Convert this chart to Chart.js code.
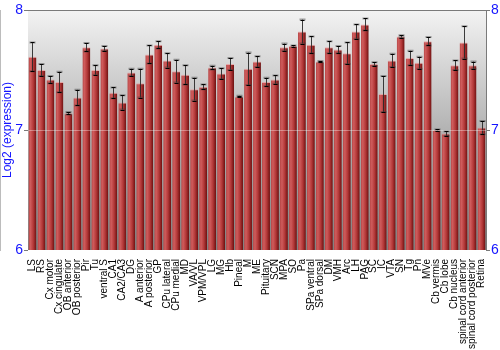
<!DOCTYPE html>
<html>
<head>
<meta charset="utf-8">
<script src="https://cdn.jsdelivr.net/npm/chart.js@4"></script>
<style>
  html, body { margin: 0; padding: 0; background: #fff; }
  #wrap { width: 500px; height: 350px; }
</style>
</head>
<body>
<div id="wrap"><canvas id="barChart" width="500" height="350"></canvas></div>
<script>
const regions = ['LS', 'RS', 'Cx motor', 'Cx cingulate', 'OB anterior', 'OB posterior', 'Pir', 'Tu',
    'ventral S', 'CA1', 'CA2/CA3', 'DG', 'A anterior', 'A posterior', 'GP', 'CPu lateral', 'CPu medial',
    'MD', 'VA/VL', 'VPM/VPL', 'LG', 'MG', 'Hb', 'Pineal', 'M', 'ME', 'Pituitary', 'SCN', 'MPA', 'SO', 'Pa',
    'SPa ventral', 'SPa dorsal', 'DM', 'VMH', 'Arc', 'LH', 'PAG', 'SC', 'IC', 'VTA', 'SN', 'Tg', 'Pn', 'MVe',
    'Cb vermis', 'Cb lobe', 'Cb nucleus', 'spinal cord anterior', 'spinal cord posterior', 'Retina'];

const expression = [7.61, 7.50, 7.42, 7.40, 7.14, 7.27, 7.69, 7.50,
    7.68, 7.31, 7.23, 7.48, 7.39, 7.63, 7.71, 7.58, 7.49,
    7.46, 7.34, 7.36, 7.52, 7.47, 7.55, 7.28, 7.51, 7.57, 7.40, 7.42, 7.69, 7.70, 7.82,
    7.71, 7.57, 7.69, 7.67, 7.64, 7.82, 7.88, 7.55, 7.30, 7.58, 7.78, 7.60, 7.56, 7.74,
    7.00, 6.97, 7.54, 7.73, 7.54, 7.02];

const errors = [0.12, 0.05, 0.03, 0.085, 0.01, 0.065, 0.035, 0.04,
    0.02, 0.045, 0.06, 0.03, 0.12, 0.075, 0.03, 0.06, 0.095,
    0.08, 0.095, 0.02, 0.015, 0.045, 0.05, 0.005, 0.135, 0.045, 0.035, 0.035, 0.03, 0.005, 0.10,
    0.07, 0.005, 0.05, 0.03, 0.09, 0.06, 0.05, 0.015, 0.15, 0.055, 0.01, 0.06, 0.05, 0.035,
    0.005, 0.02, 0.04, 0.135, 0.03, 0.055];

const yTicks = [6, 7, 8];
const blue = '#1414ff';

function barFill(ctx) {
    const chart = ctx.chart;
    const x = chart.scales.x;
    if (!x || !chart.chartArea) return '#b03030';
    const cx = x.getPixelForValue(ctx.dataIndex);
    const w = x.width / regions.length * 0.9;
    const g = chart.ctx.createLinearGradient(cx - w / 2, 0, cx + w / 2, 0);
    g.addColorStop(0, '#b54545');
    g.addColorStop(0.25, '#cf5c5c');
    g.addColorStop(0.6, '#b33838');
    g.addColorStop(1, '#6a0e0e');
    return g;
}

const backdrop = {
    id: 'backdrop',
    beforeDraw(chart) {
        const { ctx, chartArea: a } = chart;
        const g = ctx.createLinearGradient(0, a.top, 0, a.bottom);
        g.addColorStop(0, '#f3f3f3');
        g.addColorStop(0.5, '#b3b3b3');
        g.addColorStop(1, '#808080');
        ctx.save();
        ctx.fillStyle = g;
        ctx.fillRect(a.left, a.top, a.right - a.left, a.bottom - a.top);
        ctx.restore();
    }
};

const errorBars = {
    id: 'errorBars',
    afterDatasetsDraw(chart) {
        const { ctx } = chart;
        const x = chart.scales.x, y = chart.scales.y;
        ctx.save();
        expression.forEach(function (v, i) {
            const cx = Math.round(x.getPixelForValue(i)) + 0.5;
            const hi = y.getPixelForValue(v + errors[i]);
            const lo = y.getPixelForValue(v - errors[i]);
            ctx.strokeStyle = 'rgba(40,40,40,0.9)';
            ctx.lineWidth = 1;
            ctx.beginPath();
            ctx.moveTo(cx, hi);
            ctx.lineTo(cx, lo);
            ctx.stroke();
            ctx.strokeStyle = 'rgba(60,60,60,0.45)';
            ctx.lineWidth = 2;
            ctx.beginPath();
            ctx.moveTo(cx - 3, hi); ctx.lineTo(cx + 3, hi);
            ctx.moveTo(cx - 3, lo); ctx.lineTo(cx + 3, lo);
            ctx.stroke();
            ctx.strokeStyle = '#000';
            ctx.lineWidth = 1;
            ctx.beginPath();
            ctx.moveTo(cx - 2, Math.round(hi) + 0.5); ctx.lineTo(cx + 2, Math.round(hi) + 0.5);
            ctx.moveTo(cx - 2, Math.round(lo) + 0.5); ctx.lineTo(cx + 2, Math.round(lo) + 0.5);
            ctx.stroke();
        });
        ctx.restore();
    }
};

function gridColor(c) {
    if (c.tick && c.tick.value === 7) return 'rgba(255,255,255,0.35)';
    return 'rgba(0,0,0,0)';
}

const yCommon = {
    min: yTicks[0],
    max: yTicks[yTicks.length - 1],
    afterBuildTicks: function (axis) {
        axis.ticks = yTicks.map(v => ({ value: v }));
    },
    border: { display: true, color: '#7a7a7a', width: 1 },
    ticks: { color: blue, font: { family: 'Liberation Sans, Arial, sans-serif', size: 14 }, padding: 1 }
};

new Chart(document.getElementById('barChart').getContext('2d'), {
    type: 'bar',
    data: {
        labels: regions,
        datasets: [{
            data: expression,
            backgroundColor: barFill,
            borderColor: 'rgba(235,150,150,0.7)',
            borderWidth: { top: 1, left: 0, right: 0, bottom: 0 },
            borderSkipped: false,
            barPercentage: 0.88,
            categoryPercentage: 1
        }]
    },
    options: {
        responsive: false,
        animation: false,
        layout: { padding: { top: 10, left: 0, right: 0, bottom: 0 } },
        plugins: { legend: { display: false }, tooltip: { enabled: false } },
        scales: {
            x: {
                grid: { display: false },
                border: { display: false },
                ticks: {
                    color: '#000',
                    autoSkip: false,
                    minRotation: 90,
                    maxRotation: 90,
                    padding: 1,
                    font: { family: 'Liberation Sans, Arial, sans-serif', size: 10 }
                },
                afterFit: function (axis) { axis.height = 100; }
            },
            y: Object.assign({}, yCommon, {
                position: 'left',
                grid: { color: gridColor, tickColor: '#7a7a7a', tickLength: 4, z: 1 },
                title: {
                    display: true,
                    text: 'Log2 (expression)',
                    color: blue,
                    padding: 0,
                    font: { family: 'Liberation Sans, Arial, sans-serif', size: 12 }
                },
                afterFit: function (axis) { axis.width = 28; }
            }),
            y2: Object.assign({}, yCommon, {
                position: 'right',
                grid: { drawOnChartArea: false, tickColor: '#7a7a7a', tickLength: 4 },
                afterFit: function (axis) { axis.width = 14; }
            })
        }
    },
    plugins: [backdrop, errorBars, {
        id: 'topLine',
        afterDraw(chart) {
            const { ctx, chartArea: a } = chart;
            ctx.save();
            ctx.strokeStyle = '#7a7a7a';
            ctx.lineWidth = 1;
            ctx.beginPath();
            ctx.moveTo(a.left, Math.round(a.top) + 0.5);
            ctx.lineTo(a.right, Math.round(a.top) + 0.5);
            ctx.stroke();
            ctx.restore();
        }
    }]
});
</script>
</body>
</html>
